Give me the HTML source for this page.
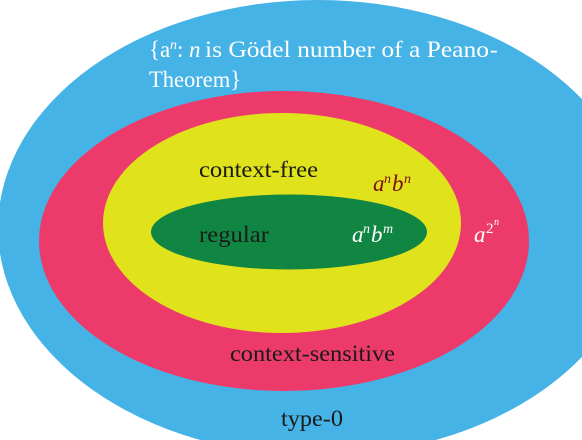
<!DOCTYPE html>
<html><head><meta charset="utf-8"><style>
html,body{margin:0;padding:0;background:#fff;width:582px;height:440px;overflow:hidden}
svg{display:block;overflow:hidden}
text{font-family:"Liberation Serif",serif}
</style></head><body>
<svg width="582" height="440" viewBox="0 0 582 440" xmlns="http://www.w3.org/2000/svg" font-size="23">
<ellipse cx="318" cy="228" rx="320" ry="228" fill="#45b3e5"/>
<ellipse cx="284" cy="241" rx="245" ry="150" fill="#ec3b6b"/>
<ellipse cx="282" cy="223" rx="179" ry="110" fill="#e0e31b"/>
<ellipse cx="289" cy="232" rx="138" ry="37.5" fill="#118643"/>
<text x="149" y="57" fill="#fff">{a</text>
<text x="170" y="49" fill="#fff" style="font-style:italic;font-size:14px">n</text>
<text x="177" y="57" fill="#fff">:</text>
<text x="189" y="57" fill="#fff" style="font-style:italic">n</text>
<text x="205" y="57" fill="#fff" textLength="284" lengthAdjust="spacingAndGlyphs">is Gödel number of a Peano</text>
<text x="490" y="57" fill="#fff">-</text>
<text x="149" y="87" fill="#fff" textLength="92" lengthAdjust="spacingAndGlyphs">Theorem}</text>
<text x="199" y="177" fill="#1a1a1a" textLength="119" lengthAdjust="spacingAndGlyphs">context-free</text>
<text x="373" y="191" fill="#7a1010" style="font-style:italic">a</text>
<text x="384" y="183" fill="#7a1010" style="font-style:italic;font-size:14px">n</text>
<text x="392" y="191" fill="#7a1010" style="font-style:italic">b</text>
<text x="404" y="183" fill="#7a1010" style="font-style:italic;font-size:14px">n</text>
<text x="199" y="242" fill="#1a1a1a" textLength="70" lengthAdjust="spacingAndGlyphs">regular</text>
<text x="352" y="242" fill="#fff" style="font-style:italic">a</text>
<text x="363" y="233" fill="#fff" style="font-style:italic;font-size:14px">n</text>
<text x="371" y="242" fill="#fff" style="font-style:italic">b</text>
<text x="383" y="233" fill="#fff" style="font-style:italic;font-size:14px">m</text>
<text x="474" y="242" fill="#fff" style="font-style:italic">a</text>
<text x="486" y="233" fill="#fff" style="font-size:15px">2</text>
<text x="494" y="225" fill="#fff" style="font-style:italic;font-size:10px">n</text>
<text x="230" y="361" fill="#1a1a1a" textLength="165" lengthAdjust="spacingAndGlyphs">context-sensitive</text>
<text x="281" y="426" fill="#1a1a1a" textLength="62" lengthAdjust="spacingAndGlyphs">type-0</text>
</svg>
</body></html>
